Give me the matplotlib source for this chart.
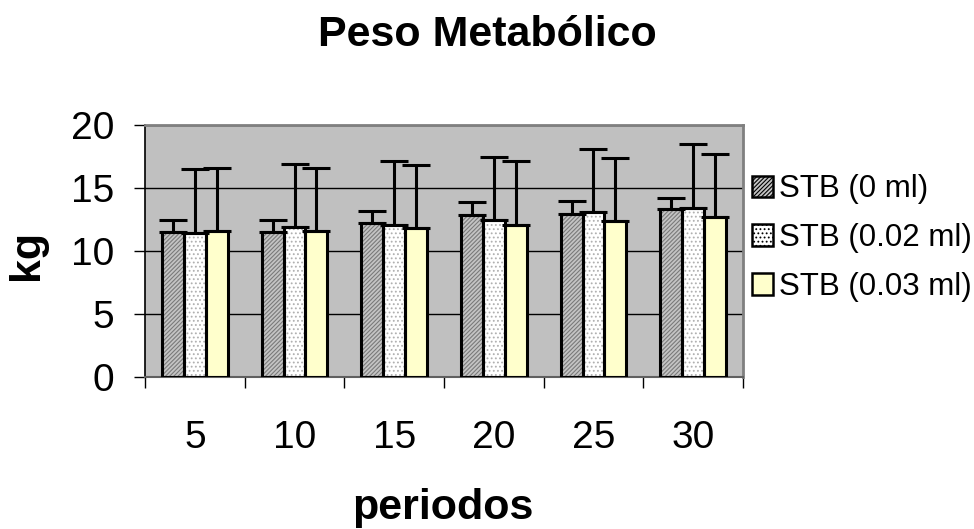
import matplotlib
matplotlib.use("Agg")
import matplotlib.pyplot as plt
import numpy as np
from matplotlib.patches import Patch

plt.rcParams['font.family'] = ['Liberation Sans', 'DejaVu Sans']
plt.rcParams['hatch.linewidth'] = 0.8

periods = ['5', '10', '15', '20', '25', '30']
series_names = ['STB (0 ml)', 'STB (0.02 ml)', 'STB (0.03 ml)']
stb0 = [11.5, 11.5, 12.25, 12.85, 12.9, 13.3]
err0 = [1.0, 1.0, 0.95, 1.0, 1.1, 0.9]
stb002 = [11.45, 11.9, 12.1, 12.5, 13.1, 13.45]
err002 = [5.05, 5.0, 5.05, 5.0, 5.0, 5.05]
stb003 = [11.6, 11.55, 11.8, 12.1, 12.4, 12.7]
err003 = [4.95, 5.0, 5.0, 5.05, 4.95, 5.0]

values = [stb0, stb002, stb003]
errors = [err0, err002, err003]
faces = ['#C4C4C4', '#FFFFFF', '#FFFFCC']
hatches = ['////////', '....', None]
hatch_cols = ['#7A7A7A', '#B0B0B0', None]

fig = plt.figure(figsize=(9.74, 5.29), dpi=100)
ax = fig.add_axes([0.1489, 0.2873, 0.7628 - 0.1489, 0.7637 - 0.2873])
ax.set_facecolor('#C0C0C0')

x = np.arange(len(periods))
w = 0.22
for k in range(3):
    pos = x + (k - 1) * w
    if hatches[k]:
        ax.bar(pos, values[k], w, color=faces[k], edgecolor=hatch_cols[k],
               hatch=hatches[k], linewidth=0, zorder=2)
    else:
        ax.bar(pos, values[k], w, color=faces[k], linewidth=0, zorder=2)
    ax.bar(pos, values[k], w, fill=False, edgecolor='black', linewidth=2.2, zorder=3)
    ax.errorbar(pos, values[k], yerr=[np.zeros(len(x)), errors[k]], fmt='none',
                ecolor='black', elinewidth=2.2, capsize=10, capthick=2.2, zorder=4)

ax.set_xlim(-0.5, len(periods) - 0.5)
ax.set_ylim(0, 20)
ax.set_yticks([0, 5, 10, 15, 20])
ax.yaxis.grid(True, color='black', linewidth=1.0, zorder=1)
ax.set_axisbelow(True)
ax.tick_params(axis='y', direction='out', length=8, width=1, labelsize=28, pad=14)

ax.set_xticks(x)
ax.set_xticklabels(periods)
ax.set_xticks(np.arange(-0.5, len(periods)), minor=True)
ax.tick_params(axis='x', which='major', length=0, labelsize=28, pad=31)
ax.tick_params(axis='x', which='minor', direction='out', length=8, width=1)

for s in ['top', 'right']:
    ax.spines[s].set_color('#808080')
    ax.spines[s].set_linewidth(2)
ax.spines['left'].set_color('black')
ax.spines['bottom'].set_color('#606060')
ax.spines['left'].set_linewidth(1.2)
ax.spines['bottom'].set_linewidth(1.5)

fig.text(0.5, 1 - 46 / 529, 'Peso Metabólico', ha='center', va='baseline',
         fontsize=31, fontweight='bold')
fig.text(443 / 974, 1 - 519 / 529, 'periodos', ha='center', va='baseline',
         fontsize=31, fontweight='bold')
fig.text(27 / 974, 1 - 255 / 529, 'kg', ha='center', va='center', rotation=90,
         fontsize=31, fontweight='bold')

handles = []
for k in range(3):
    handles.append(Patch(facecolor=faces[k], edgecolor='black', linewidth=1.8,
                         hatch=hatches[k] if hatches[k] else None))
leg = fig.legend(handles, series_names, loc='center left', bbox_to_anchor=(0.759, 0.55),
                 frameon=False, fontsize=22.5, handlelength=0.68, handleheight=0.68,
                 handletextpad=0.2, labelspacing=0.6, borderaxespad=0)

fig.savefig('out.png', dpi=100)
